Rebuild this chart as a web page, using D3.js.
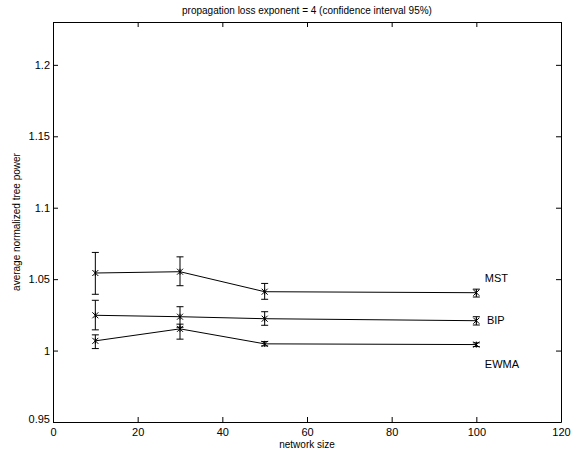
<!DOCTYPE html>
<html>
<head>
<meta charset="utf-8">
<script src="https://cdn.jsdelivr.net/npm/d3@7"></script>
<style>
  body { margin: 0; background: #fff; }
  text { font-family: "Liberation Sans", Arial, Helvetica, sans-serif; fill: #000; }
</style>
</head>
<body>
<div id="chart"></div>
<script>
const sizes = [10, 30, 50, 100]

const mst = [1.0543, 1.0552, 1.0412, 1.0405]
const mstLow = [1.0394, 1.0454, 1.0359, 1.0375]
const mstHigh = [1.0687, 1.0656, 1.0470, 1.0430]

const bip = [1.0247, 1.0237, 1.0223, 1.0209]
const bipLow = [1.0145, 1.0163, 1.0177, 1.0179]
const bipHigh = [1.0352, 1.0307, 1.0272, 1.0237]

const ewma = [1.0068, 1.0152, 1.0047, 1.0042]
const ewmaLow = [1.0014, 1.0080, 1.0033, 1.0028]
const ewmaHigh = [1.0110, 1.0185, 1.0063, 1.0054]

const labelNames = ["MST", "BIP", "EWMA"]
const labelX = [102, 102.5, 102]
const labelY = [1.0505, 1.0213, 0.9905]

const xTicks = [0, 20, 40, 60, 80, 100, 120]
const yTicks = [0.95, 1, 1.05, 1.1, 1.15, 1.2]

const width = 580, height = 452
const margin = { top: 22, right: 19, bottom: 30, left: 53 }

const svg = d3.select("#chart").append("svg")
  .attr("width", width)
  .attr("height", height)

const x = d3.scaleLinear().domain([0, 120]).range([margin.left, width - margin.right])
const y = d3.scaleLinear().domain([0.95, 1.23]).range([height - margin.bottom, margin.top])

const fmt = d => String(d)

// axes with inward ticks on all four sides
svg.append("g")
  .attr("transform", `translate(0,${y(0.95)})`)
  .call(d3.axisBottom(x).tickValues(xTicks).tickFormat(fmt).tickSizeInner(-5).tickSizeOuter(0).tickPadding(6))
svg.append("g")
  .attr("transform", `translate(0,${y(1.23)})`)
  .call(d3.axisTop(x).tickValues(xTicks).tickFormat("").tickSizeInner(-5).tickSizeOuter(0))
svg.append("g")
  .attr("transform", `translate(${x(0)},0)`)
  .call(d3.axisLeft(y).tickValues(yTicks).tickFormat(fmt).tickSizeInner(-5).tickSizeOuter(0).tickPadding(3))
svg.append("g")
  .attr("transform", `translate(${x(120)},0)`)
  .call(d3.axisRight(y).tickValues(yTicks).tickFormat("").tickSizeInner(-5).tickSizeOuter(0))

svg.selectAll(".domain").attr("stroke", "#000").attr("stroke-width", 1)
svg.selectAll(".tick line").attr("stroke", "#000")
svg.selectAll(".tick text").attr("font-size", 11).attr("font-family", "Liberation Sans, Arial, sans-serif")

// nudge the 0.95 label up a bit like the original
svg.selectAll(".tick text").filter(d => d === 0.95).attr("dy", "0.05em")

const series = [
  { vals: mst, lo: mstLow, hi: mstHigh },
  { vals: bip, lo: bipLow, hi: bipHigh },
  { vals: ewma, lo: ewmaLow, hi: ewmaHigh }
]

const line = d3.line().x((d, i) => x(sizes[i])).y(d => y(d))
const cap = 3.5, m = 3

series.forEach(s => {
  const g = svg.append("g")
  g.append("path")
    .attr("d", line(s.vals))
    .attr("fill", "none")
    .attr("stroke", "#000")
    .attr("stroke-width", 1)

  sizes.forEach((n, i) => {
    const cx = x(n), lo = y(s.lo[i]), hi = y(s.hi[i]), cy = y(s.vals[i])
    g.append("path")
      .attr("d", `M${cx},${hi}V${lo}M${cx - cap},${hi}H${cx + cap}M${cx - cap},${lo}H${cx + cap}`)
      .attr("stroke", "#000").attr("fill", "none").attr("stroke-width", 1)
    g.append("path")
      .attr("d", `M${cx - m},${cy - m}L${cx + m},${cy + m}M${cx - m},${cy + m}L${cx + m},${cy - m}M${cx},${cy - m}V${cy + m}`)
      .attr("stroke", "#000").attr("fill", "none").attr("stroke-width", 1)
  })
})

labelNames.forEach((t, i) => {
  svg.append("text")
    .attr("x", x(labelX[i]))
    .attr("y", y(labelY[i]))
    .attr("dy", "0.35em")
    .attr("font-size", 11)
    .text(t)
})

svg.append("text")
  .attr("x", (x(0) + x(120)) / 2)
  .attr("y", 14)
  .attr("text-anchor", "middle")
  .attr("font-size", 10)
  .text("propagation loss exponent = 4 (confidence interval 95%)")

svg.append("text")
  .attr("x", (x(0) + x(120)) / 2)
  .attr("y", 448)
  .attr("text-anchor", "middle")
  .attr("font-size", 10)
  .text("network size")

svg.append("text")
  .attr("transform", `translate(20,${(y(0.95) + y(1.23)) / 2}) rotate(-90)`)
  .attr("text-anchor", "middle")
  .attr("font-size", 10)
  .text("average normalized tree power")
</script>
</body>
</html>
